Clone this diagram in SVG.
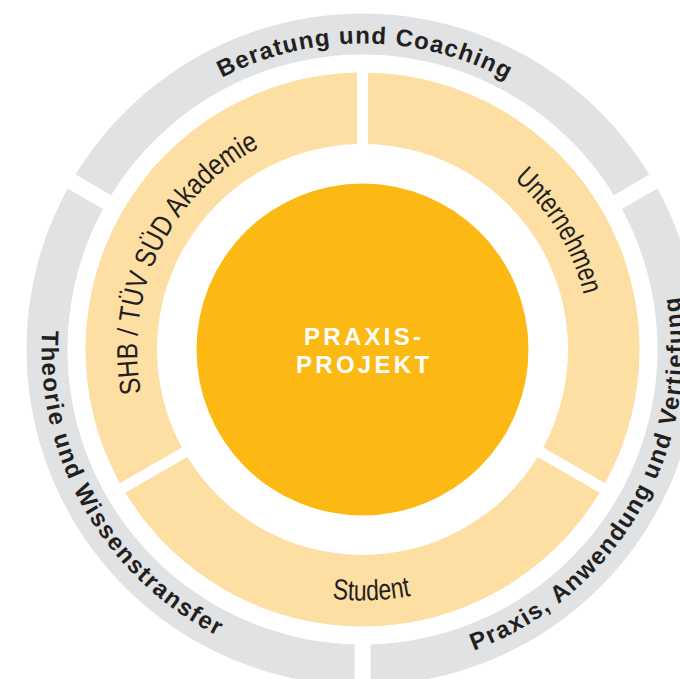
<svg xmlns="http://www.w3.org/2000/svg" width="680" height="679" viewBox="0 0 680 679">
<style>
.gray{fill:#E1E2E3}
.ring{fill:#FDDEA3}
.core{fill:#FDB913}
.outer-t{font-family:"Liberation Sans",Arial,sans-serif;font-weight:bold;font-size:24px;fill:#231F20}
.inner-t{font-family:"Liberation Sans",Arial,sans-serif;font-size:29px;fill:#231F20}
.core-t{font-family:"Liberation Sans",Arial,sans-serif;font-weight:bold;font-size:24px;fill:#FFFFFF;letter-spacing:3.3px}
</style>
<defs>
<path id="p-beratung" d="M 97.5 196.5 A 306 306 0 0 1 627.5 196.5"/>
<path id="p-theorie" d="M 84.51 189 A 321 321 0 0 0 362.5 670.5"/>
<path id="p-praxis" d="M 362.5 670.5 A 321 321 0 0 0 640.49 189"/>
<path id="p-shb" d="M 167.65 463.5 A 228 228 0 0 1 362.5 121.5"/>
<path id="p-unternehmen" d="M 362.5 121.5 A 228 228 0 0 1 559.95 463.5"/>
<path id="p-student" d="M 145.13 475 A 251 251 0 0 0 579.87 475"/>
</defs>
<rect width="680" height="679" fill="#FFFFFF"/>
<g id="beratung">
<path class="gray" d="M 649.40 174.62 A 336 336 0 0 0 75.60 174.62 L 111.12 195.13 A 295 295 0 0 1 613.88 195.13 Z"/>
<text class="outer-t" letter-spacing="1.2"><textPath href="#p-beratung" startOffset="50.4%" text-anchor="middle">Beratung und Coaching</textPath></text>
</g>
<g id="theorie">
<path class="gray" d="M 67.60 188.48 A 336 336 0 0 0 354.5 685.40 L 354.5 644.39 A 295 295 0 0 1 103.12 208.98 Z"/>
<text class="outer-t" letter-spacing="1.6"><textPath href="#p-theorie" startOffset="50%" text-anchor="middle">Theorie und Wissenstransfer</textPath></text>
</g>
<g id="praxis">
<path class="gray" d="M 370.5 685.40 A 336 336 0 0 0 657.40 188.48 L 621.88 208.98 A 295 295 0 0 1 370.5 644.39 Z"/>
<text class="outer-t" letter-spacing="1.5"><textPath href="#p-praxis" startOffset="50%" text-anchor="middle">Praxis, Anwendung und Vertiefung</textPath></text>
</g>
<g id="shb">
<path class="ring" d="M 357 72.55 A 277 277 0 0 0 119.91 483.21 L 181.85 447.45 A 205.5 205.5 0 0 1 357 144.07 Z"/>
<text class="inner-t"><textPath href="#p-shb" startOffset="46.7%" text-anchor="middle" textLength="292" lengthAdjust="spacingAndGlyphs">SHB / TÜV SÜD Akademie</textPath></text>
</g>
<g id="unternehmen">
<path class="ring" d="M 605.09 483.21 A 277 277 0 0 0 368 72.55 L 368 144.07 A 205.5 205.5 0 0 1 543.16 447.45 Z"/>
<text class="inner-t"><textPath href="#p-unternehmen" startOffset="49.1%" text-anchor="middle" textLength="137" lengthAdjust="spacingAndGlyphs">Unternehmen</textPath></text>
</g>
<g id="student">
<path class="ring" d="M 125.41 492.74 A 277 277 0 0 0 599.59 492.74 L 537.65 456.98 A 205.5 205.5 0 0 1 187.35 456.98 Z"/>
<text class="inner-t" font-size="27"><textPath href="#p-student" startOffset="51.75%" text-anchor="middle" textLength="79" lengthAdjust="spacingAndGlyphs">Student</textPath></text>
</g>
<g id="praxisprojekt">
<circle class="core" cx="362.5" cy="349.5" r="166"/>
<text class="core-t" x="364.2" y="345" text-anchor="middle">PRAXIS-</text>
<text class="core-t" x="364.2" y="373" text-anchor="middle">PROJEKT</text>
</g>
</svg>
